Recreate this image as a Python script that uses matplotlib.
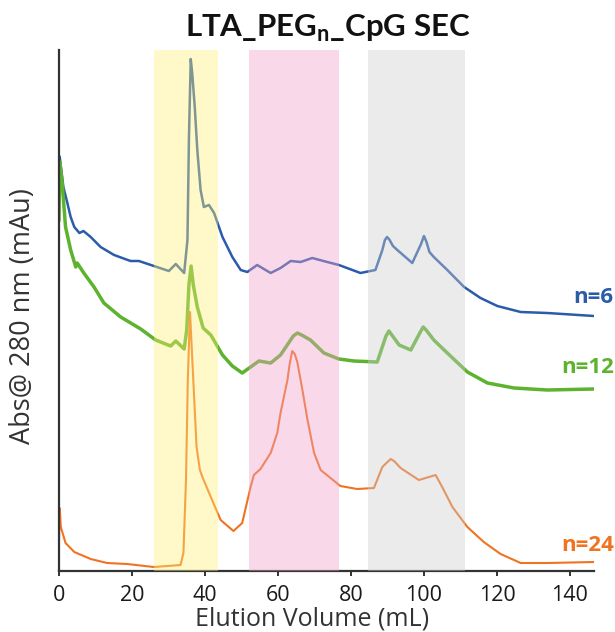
import matplotlib
matplotlib.use("Agg")
import matplotlib.pyplot as plt

# ------------------------------------------------------------------
# DATOS (Abs en unidades arbitrarias)
vol_n6 = [0.2, 1.2, 2.3, 3.2, 4.2, 5.6, 6.7, 8.7, 11.4, 15.1, 19.6, 21.9, 26.0, 30.1, 32.0,
          34.3, 35.2, 35.6, 36.1, 36.5, 37.2, 37.9, 38.8, 39.7, 41.1, 42.5, 44.8, 47.5, 49.8,
          51.6, 54.3, 58.0, 60.7, 63.5, 66.2, 69.4, 73.5, 76.7, 82.6, 86.7, 88.6, 89.3, 89.9,
          90.6, 91.5, 92.7, 96.8, 99.2, 100.0, 100.7, 101.5, 102.7, 106.4, 111.0, 115.5,
          120.1, 126.5, 133.8, 146.6]
abs_n6 = [414, 384, 368, 354, 344, 338, 340, 334, 324, 316, 310, 310, 305, 300, 307,
          298, 331, 431, 512, 498, 464, 421, 381, 364, 366, 358, 334, 314, 301,
          299, 306, 298, 303, 310, 309, 313, 309, 306, 298, 301, 321, 331, 334,
          331, 325, 321, 308, 327, 335, 329, 319, 314, 301, 284, 273,
          265, 259, 258, 255]

vol_n12 = [0.0, 0.2, 0.8, 1.8, 3.2, 4.6, 5.0, 6.8, 9.6, 12.3, 16.9, 22.4, 26.5, 30.6, 32.0,
           34.3, 35.0, 35.6, 36.2, 36.8, 37.9, 39.5, 41.6, 44.8, 47.5, 50.2, 52.5, 54.8, 58.0,
           60.7, 64.2, 65.3, 66.5, 68.9, 72.6, 76.7, 80.8, 87.2, 89.6, 90.4, 91.2, 93.2, 96.4,
           99.0, 99.8, 100.6, 102.7, 106.4, 111.9, 117.4, 124.7, 133.8, 146.6]
abs_n12 = [351, 409, 391, 344, 321, 304, 308, 298, 284, 268, 254, 242, 231, 225, 230,
           222, 241, 286, 305, 286, 264, 243, 236, 216, 205, 198, 204, 210, 208,
           216, 235, 238, 236, 231, 218, 212, 210, 209, 235, 240, 236, 226, 221,
           239, 244, 241, 231, 218, 199, 188, 183, 181, 182]

vol_n24 = [0.0, 0.2, 0.5, 1.8, 4.2, 8.7, 13.2, 18.7, 26.0, 33.3, 34.1, 34.8, 35.3, 35.9,
           36.8, 37.7, 38.6, 39.3, 41.6, 44.3, 47.8, 50.2, 52.5, 53.4, 55.2, 58.0, 59.8, 60.7,
           62.6, 63.2, 63.9, 64.6, 65.3, 66.7, 68.1, 69.9, 71.7, 74.4, 77.1, 81.7, 86.3, 88.6,
           90.0, 90.9, 91.8, 93.6, 98.6, 103.2, 105.0, 107.8, 111.9, 116.4, 121.0, 126.5,
           133.8, 146.6]
abs_n24 = [31, 63, 44, 28, 19, 12, 8, 7, 4, 6, 18, 91, 191, 259,
           191, 124, 101, 94, 74, 51, 40, 48, 84, 96, 102, 118, 138, 158,
           191, 207, 220, 217, 209, 181, 151, 118, 101, 93, 85, 82, 83, 104,
           109, 112, 110, 103, 91, 96, 84, 64, 44, 29, 17, 8,
           8, 9]

# zonas sombreadas (mL)
zonas = [(26.1, 43.7), (52.0, 76.6), (84.7, 111.3)]
colores_zona = ['#FFEE76', '#F0A2C8', '#CDCDCD']

AZUL = '#2A5CAA'
VERDE = '#5DB22E'
NARANJA = '#F07322'

# ------------------------------------------------------------------
plt.rcParams['font.family'] = ['Open Sans', 'DejaVu Sans']
plt.rcParams['mathtext.fontset'] = 'custom'
plt.rcParams['mathtext.rm'] = 'Lato'
plt.rcParams['mathtext.bf'] = 'Lato:bold'

fig = plt.figure(figsize=(6.15, 6.32), dpi=100)
ax = fig.add_axes([0.0959, 0.0965, 0.870, 0.8244])

ax.plot(vol_n6, abs_n6, color=AZUL, linewidth=1.8, zorder=2)
ax.plot(vol_n12, abs_n12, color=VERDE, linewidth=2.5, zorder=2)
ax.plot(vol_n24, abs_n24, color=NARANJA, linewidth=1.5, zorder=2)

# bandas encima de las curvas (tinte tipo fusion)
for (a, b), c in zip(zonas, colores_zona):
    ax.axvspan(a, b, color=c, alpha=0.4, linewidth=0, zorder=3)

ax.text(152, 274, 'n=6', color=AZUL, fontsize=16, fontweight='bold',
        ha='right', va='center', clip_on=False)
ax.text(152, 204, 'n=12', color=VERDE, fontsize=16, fontweight='bold',
        ha='right', va='center', clip_on=False)
ax.text(152, 26, 'n=24', color=NARANJA, fontsize=16, fontweight='bold',
        ha='right', va='center', clip_on=False)

ax.set_xlim(0, 146.6)
ax.set_ylim(0, 521)
ax.set_xticks(range(0, 141, 20))
ax.set_yticks([])

for s in ['top', 'right']:
    ax.spines[s].set_visible(False)
for s in ['left', 'bottom']:
    ax.spines[s].set_linewidth(1.6)
    ax.spines[s].set_color('#333333')

ax.tick_params(axis='x', direction='out', length=3.5, width=1.4, color='#333333',
               labelsize=15.5, pad=6.5, labelcolor='#1a1a1a')

ax.set_xlabel('Elution Volume (mL)', fontsize=18, color='#333333')
ax.xaxis.set_label_coords(0.473, -0.069)
ax.set_ylabel('Abs@ 280 nm (mAu)', fontsize=19.5, color='#333333')
ax.yaxis.set_label_coords(-0.042, 0.49)

fig.text(0.533, 0.9415, r'LTA_PEG$_{\mathbf{n}}$_CpG SEC', fontsize=22.5,
         fontfamily='Lato', fontweight='bold', ha='center', va='baseline',
         color='#111111')

plt.savefig('out.png', dpi=100)
plt.close(fig)
